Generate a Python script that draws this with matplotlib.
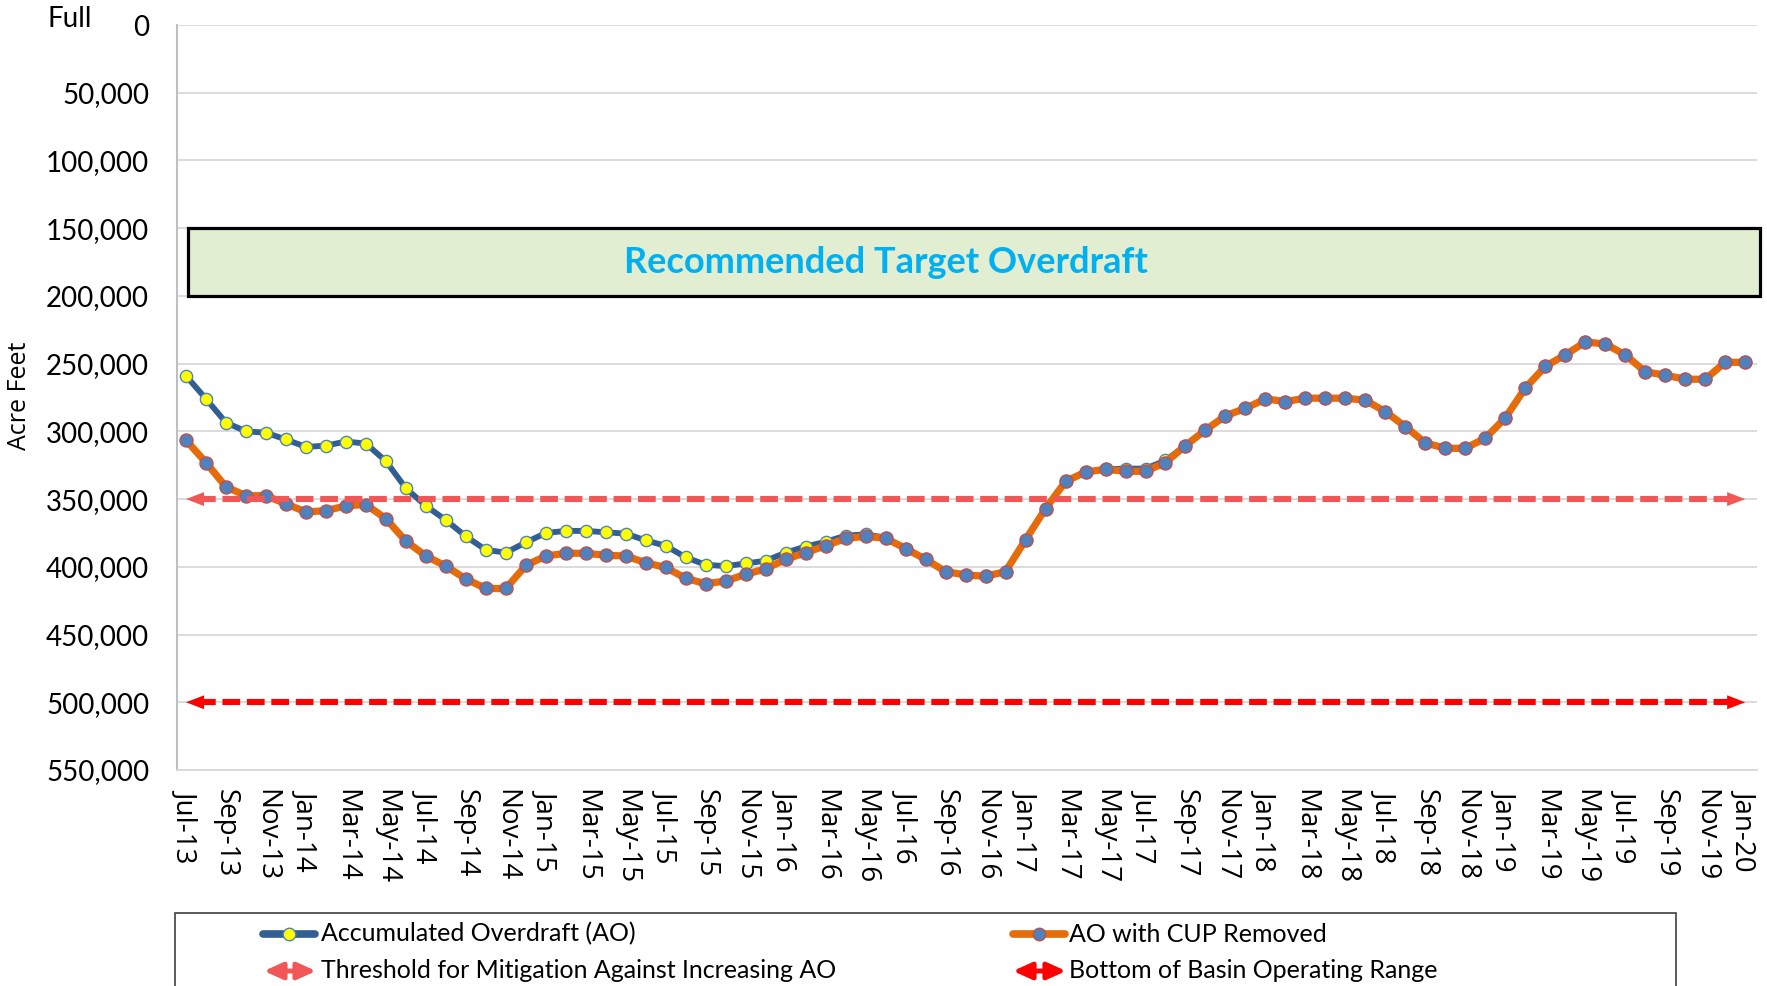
import matplotlib
matplotlib.use("Agg")
import matplotlib.pyplot as plt
import numpy as np
import pandas as pd
from matplotlib.patches import Rectangle, FancyArrowPatch
from matplotlib.lines import Line2D
from matplotlib.ticker import FuncFormatter, MultipleLocator

# ---------------- data ----------------
months = pd.date_range("2013-07-01", periods=79, freq="MS").strftime("%b-%y").tolist()

ao = [
    259000, 276000, 293500, 300000, 301000, 306000,                    # Jul-Dec 13
    311500, 310500, 307500, 309000, 322000, 342000,                    # Jan-Jun 14
    355000, 365500, 377500, 387500, 389500, 382000,                    # Jul-Dec 14
    375000, 373500, 373500, 374500, 375500, 380500,                    # Jan-Jun 15
    384500, 393000, 398500, 399500, 397500, 395500,                    # Jul-Dec 15
    389500, 385000, 381500, 377000, 376000, 378500,                    # Jan-Jun 16
    386500, 394500, 403500, 406000, 407000, 403500,                    # Jul-Dec 16
    380000, 357000, 337000, 330000, 328000, 327500,                    # Jan-Jun 17
    327500, 321500, 310500, 299000, 288500, 283000,                    # Jul-Dec 17
    276000, 278000, 275500, 275500, 275500, 277000,                    # Jan-Jun 18
    285500, 296500, 308500, 312500, 312500, 305000,                    # Jul-Dec 18
    290000, 268000, 252000, 243500, 234000, 235500,                    # Jan-Jun 19
    243500, 256000, 258500, 261500, 261500, 249000,                    # Jul-Dec 19
    249000,                                                            # Jan-20
]

ao_cup_removed = [
    306500, 323000, 341000, 347500, 347500, 353500,
    359500, 358500, 355000, 354000, 364500, 381000,
    392000, 399500, 409000, 416000, 416000, 399000,
    392000, 390000, 390000, 391500, 392000, 397000,
    400500, 408500, 412500, 410500, 405500, 401500,
    394500, 389500, 384500, 379000, 377500, 379000,
    386500, 394500, 403500, 406000, 407000, 403500,
    380000, 357000, 337000, 330000, 328000, 329500,
    329500, 323000, 310500, 299000, 288500, 283000,
    276000, 278000, 275500, 275500, 275500, 277000,
    285500, 296500, 308500, 312500, 312500, 305000,
    290000, 268000, 252000, 243500, 234000, 235500,
    243500, 256000, 258500, 261500, 261500, 249000,
    249000,
]

threshold_level = 350000
bottom_level = 500000
target_low, target_high = 150000, 200000

series_labels = ["Accumulated Overdraft (AO)", "AO with CUP Removed"]
line_labels = ["Threshold for Mitigation Against Increasing AO", "Bottom of Basin Operating Range"]
target_label = "Recommended Target Overdraft"

# ---------------- styling ----------------
plt.rcParams["font.family"] = ["Lato", "DejaVu Sans"]
W, H = 1767, 986
fig = plt.figure(figsize=(W / 100, H / 100), dpi=100)
ax = fig.add_axes([177 / W, 1 - 770 / H, (1757 - 177) / W, (770 - 25) / H])

x = np.arange(len(months))

C_AO = "#335E92"
C_CUP = "#E46C0A"
C_MK = "#4F81BD"
C_THR = "#F25757"
C_BOT = "#FF0000"

ax.plot(x, ao, color=C_AO, lw=4.2, marker="o", ms=8.8, mfc="#FFFF00",
        mec=C_MK, mew=1.0, zorder=3, solid_joinstyle="round")
ax.plot(x, ao_cup_removed, color=C_CUP, lw=5.2, marker="o", ms=9.4, mfc=C_MK,
        mec="#C0504D", mew=1.0, zorder=4, solid_joinstyle="round")

# dashed reference lines with arrow heads at both ends
n = len(months) - 1
for lvl, col in [(threshold_level, C_THR), (bottom_level, C_BOT)]:
    ax.plot([0.6, n - 0.6], [lvl, lvl], color=col, lw=4.4,
            linestyle=(0, (2.9, 1.1)), zorder=5)
    for tip, tail in [(0, 1.0), (n, n - 1.0)]:
        ax.annotate("", xy=(tip, lvl), xytext=(tail, lvl),
                    arrowprops=dict(arrowstyle="-|>,head_length=1.3,head_width=0.5",
                                    color=col, lw=0, shrinkA=0, shrinkB=0,
                                    mutation_scale=10),
                    zorder=5)

# target box
ax.add_patch(Rectangle((0.1, target_low), 78.74 - 0.1, target_high - target_low,
                       facecolor="#E2EED2", edgecolor="black", lw=2.3,
                       zorder=2, clip_on=False))
ax.text(35.0, (target_low + target_high) / 2, target_label, color="#00B0F0",
        fontsize=26, fontweight="bold", ha="center", va="center", zorder=6)

# axes
ax.set_xlim(-0.45, 78.59)
ax.set_ylim(550000, 0)
ax.yaxis.set_major_locator(MultipleLocator(50000))
ax.yaxis.set_major_formatter(FuncFormatter(lambda v, p: f"{int(v):,}"))
ax.grid(axis="y", color="#D9D9D9", lw=1.3, zorder=0)
ax.set_axisbelow(True)
for s in ["top", "right"]:
    ax.spines[s].set_visible(False)
ax.spines["left"].set_color("#BFBFBF")
ax.spines["left"].set_linewidth(1.5)
ax.spines["bottom"].set_color("#D9D9D9")
ax.spines["bottom"].set_linewidth(1.3)

ax.set_xticks(x[::2])
ax.set_xticklabels(months[::2], rotation=270, fontsize=20, family=["Open Sans", "DejaVu Sans"])
ax.tick_params(axis="x", length=0, pad=14)
ax.tick_params(axis="y", length=0, pad=20, labelsize=20)

fig.text(20 / W, 1 - 396 / H, "Acre Feet", rotation=90, fontsize=18,
         family=["Open Sans", "DejaVu Sans"], ha="center", va="center")
fig.text(47 / W, 1 - 19 / H, "Full", fontsize=20, ha="left", va="center")

# ---------------- legend (drawn manually) ----------------
def fx(px):
    return px / W

def fy(py):
    return 1 - py / H

fig.add_artist(Rectangle((fx(175), fy(1010)), fx(1676) - fx(175), fy(913) - fy(1010),
                         transform=fig.transFigure, facecolor="white",
                         edgecolor="#404040", lw=1.2))

r1, r2 = 934, 971
# AO entry
fig.add_artist(Line2D([fx(263), fx(315)], [fy(r1), fy(r1)], color=C_AO, lw=5.5,
                      solid_capstyle="round", transform=fig.transFigure))
fig.add_artist(Line2D([fx(289)], [fy(r1)], marker="o", ms=9, mfc="#FFFF00", mec=C_MK,
                      mew=1.0, transform=fig.transFigure))
fig.text(fx(321), fy(r1), series_labels[0], fontsize=18, va="center", ha="left")
# CUP entry
fig.add_artist(Line2D([fx(1013), fx(1065)], [fy(r1), fy(r1)], color=C_CUP, lw=5.5,
                      solid_capstyle="round", transform=fig.transFigure))
fig.add_artist(Line2D([fx(1039)], [fy(r1)], marker="o", ms=9, mfc=C_MK, mec="#C0504D",
                      mew=1.0, transform=fig.transFigure))
fig.text(fx(1069), fy(r1), series_labels[1], fontsize=18, va="center", ha="left")
# arrows
for x0, x1, col, lab, tx in [(264, 316, C_THR, line_labels[0], 321),
                             (1013, 1066, C_BOT, line_labels[1], 1069)]:
    fig.add_artist(FancyArrowPatch((fx(x0), fy(r2)), (fx(x1), fy(r2)),
                                   transform=fig.transFigure,
                                   arrowstyle="<|-|>,head_length=1.1,head_width=0.5",
                                   mutation_scale=10, color=col, lw=3.5,
                                   shrinkA=0, shrinkB=0))
    fig.text(fx(tx), fy(r2), lab, fontsize=18, va="center", ha="left")

fig.savefig("out.png", dpi=100)
